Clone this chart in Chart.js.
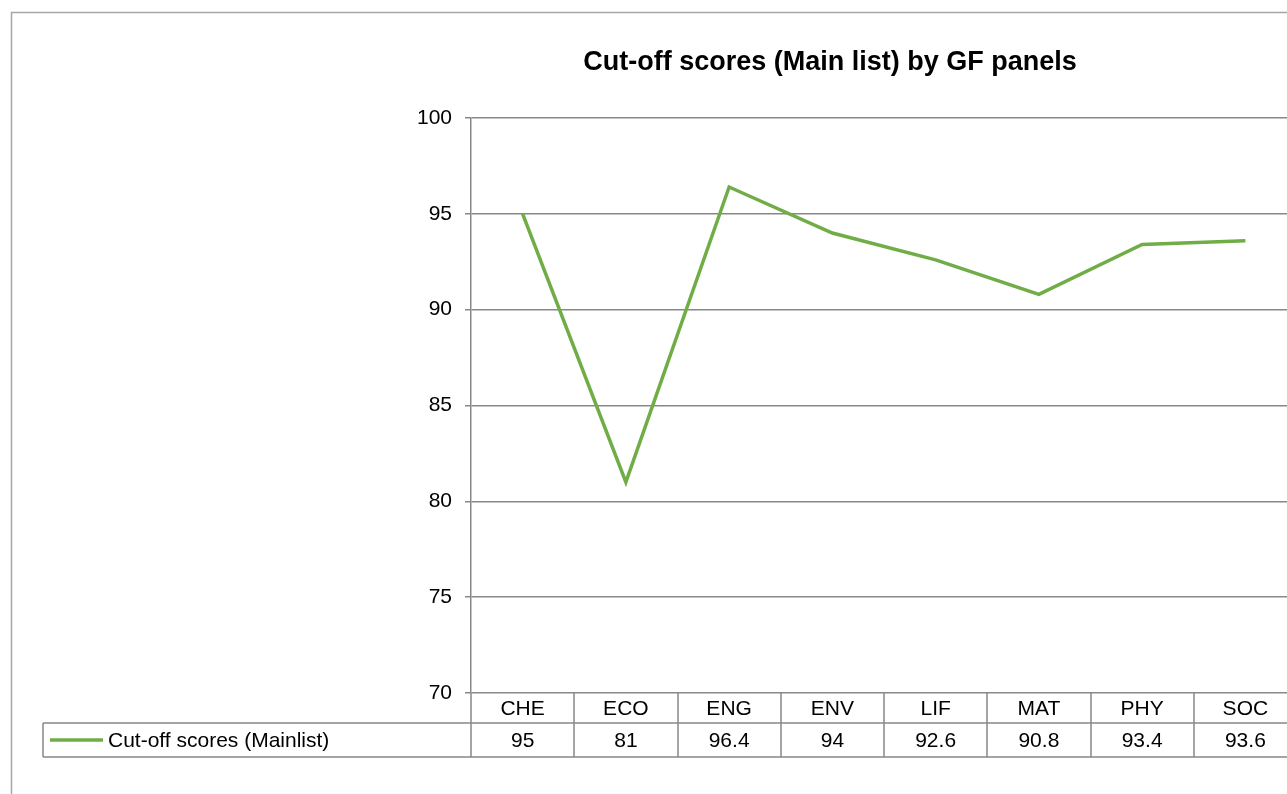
<!DOCTYPE html>
<html>
<head>
<meta charset="utf-8">
<script src="https://cdn.jsdelivr.net/npm/chart.js@4.4.0/dist/chart.umd.min.js"></script>
<style>
  html, body { margin: 0; padding: 0; background: #fff; overflow: hidden; }
  #wrap { position: absolute; left: 0; top: 0; width: 1287px; height: 794px; overflow: hidden; }
</style>
</head>
<body>
<div id="wrap"><canvas id="cutoff" width="1400" height="794"></canvas></div>
<script>
var panels = ['CHE', 'ECO', 'ENG', 'ENV', 'LIF', 'MAT', 'PHY', 'SOC'];
var cutoffScores = [95, 81, 96.4, 94, 92.6, 90.8, 93.4, 93.6];
var seriesName = 'Cut-off scores (Mainlist)';
var chartTitle = 'Cut-off scores (Main list) by GF panels';
var yTicks = [70, 75, 80, 85, 90, 95, 100];

var gridGray = '#888888';
var green = '#70AD47';
var font = 'Liberation Sans, Arial, sans-serif';

// frame + title
var framePlugin = {
    id: 'frame',
    beforeDraw: function (chart) {
        var ctx = chart.ctx;
        ctx.save();
        ctx.fillStyle = '#fff';
        ctx.fillRect(0, 0, chart.width, chart.height);
        ctx.strokeStyle = '#A6A6A6';
        ctx.lineWidth = 1.5;
        ctx.beginPath();
        ctx.moveTo(11.5, 800);
        ctx.lineTo(11.5, 12.5);
        ctx.lineTo(chart.width, 12.5);
        ctx.stroke();

        ctx.fillStyle = '#000';
        ctx.font = 'bold 27px ' + font;
        ctx.textAlign = 'center';
        ctx.textBaseline = 'middle';
        ctx.fillText(chartTitle, 830, 63);
        ctx.restore();
    }
};

// data table under the plot, laid out on the x scale
var tablePlugin = {
    id: 'dataTable',
    afterDraw: function (chart) {
        var ctx = chart.ctx;
        var x = chart.scales.x;
        var area = chart.chartArea;
        var half = (x.getPixelForValue(1) - x.getPixelForValue(0)) / 2;
        var top = area.bottom;
        var mid = top + 30;
        var bottom = mid + 34;
        var keyLeft = 43;
        var right = x.getPixelForValue(panels.length - 1) + half;

        ctx.save();
        ctx.strokeStyle = gridGray;
        ctx.lineWidth = 1.5;
        ctx.beginPath();
        ctx.moveTo(keyLeft, mid);
        ctx.lineTo(right, mid);
        ctx.moveTo(keyLeft, bottom);
        ctx.lineTo(right, bottom);
        ctx.moveTo(keyLeft, mid);
        ctx.lineTo(keyLeft, bottom);
        for (var i = 0; i <= panels.length; i++) {
            var bx = Math.round(x.getPixelForValue(0) - half + i * half * 2);
            ctx.moveTo(bx, top);
            ctx.lineTo(bx, bottom);
        }
        ctx.stroke();

        // legend key
        ctx.strokeStyle = green;
        ctx.lineWidth = 3.5;
        ctx.beginPath();
        ctx.moveTo(50, (mid + bottom) / 2);
        ctx.lineTo(103, (mid + bottom) / 2);
        ctx.stroke();

        ctx.fillStyle = '#000';
        ctx.font = '21px ' + font;
        ctx.textBaseline = 'middle';
        ctx.textAlign = 'left';
        ctx.fillText(seriesName, 108, (mid + bottom) / 2 + 1);

        ctx.textAlign = 'center';
        panels.forEach(function (p, i) {
            var cx = x.getPixelForValue(i);
            ctx.fillText(p, cx, (top + mid) / 2 + 1);
            ctx.fillText(String(cutoffScores[i]), cx, (mid + bottom) / 2 + 1);
        });
        ctx.restore();
    }
};

var ctx = document.getElementById('cutoff').getContext('2d');
var chart = new Chart(ctx, {
    type: 'line',
    data: {
        labels: panels,
        datasets: [{
            label: seriesName,
            data: cutoffScores,
            borderColor: green,
            backgroundColor: green,
            borderWidth: 3.5,
            pointRadius: 0,
            tension: 0,
            fill: false
        }]
    },
    options: {
        responsive: false,
        animation: false,
        layout: {
            padding: { left: 411, top: 118, right: 103, bottom: 101 }
        },
        scales: {
            x: {
                type: 'category',
                offset: true,
                grid: { display: false, offset: true },
                border: { display: false },
                ticks: { display: false },
                afterFit: function (scale) { scale.height = 0; }
            },
            y: {
                min: 70,
                max: 100,
                afterBuildTicks: function (scale) {
                    scale.ticks = yTicks.map(function (v) { return { value: v }; });
                },
                afterFit: function (scale) { scale.width = 60; },
                grid: {
                    color: gridGray,
                    lineWidth: 1.5,
                    tickLength: 6,
                    drawTicks: true
                },
                border: { display: true, color: gridGray, width: 1.5 },
                ticks: {
                    color: '#000',
                    padding: 13,
                    font: { family: font, size: 21 }
                }
            }
        },
        plugins: {
            legend: { display: false },
            title: { display: false },
            tooltip: { enabled: false }
        }
    },
    plugins: [framePlugin, tablePlugin]
});
</script>
</body>
</html>
